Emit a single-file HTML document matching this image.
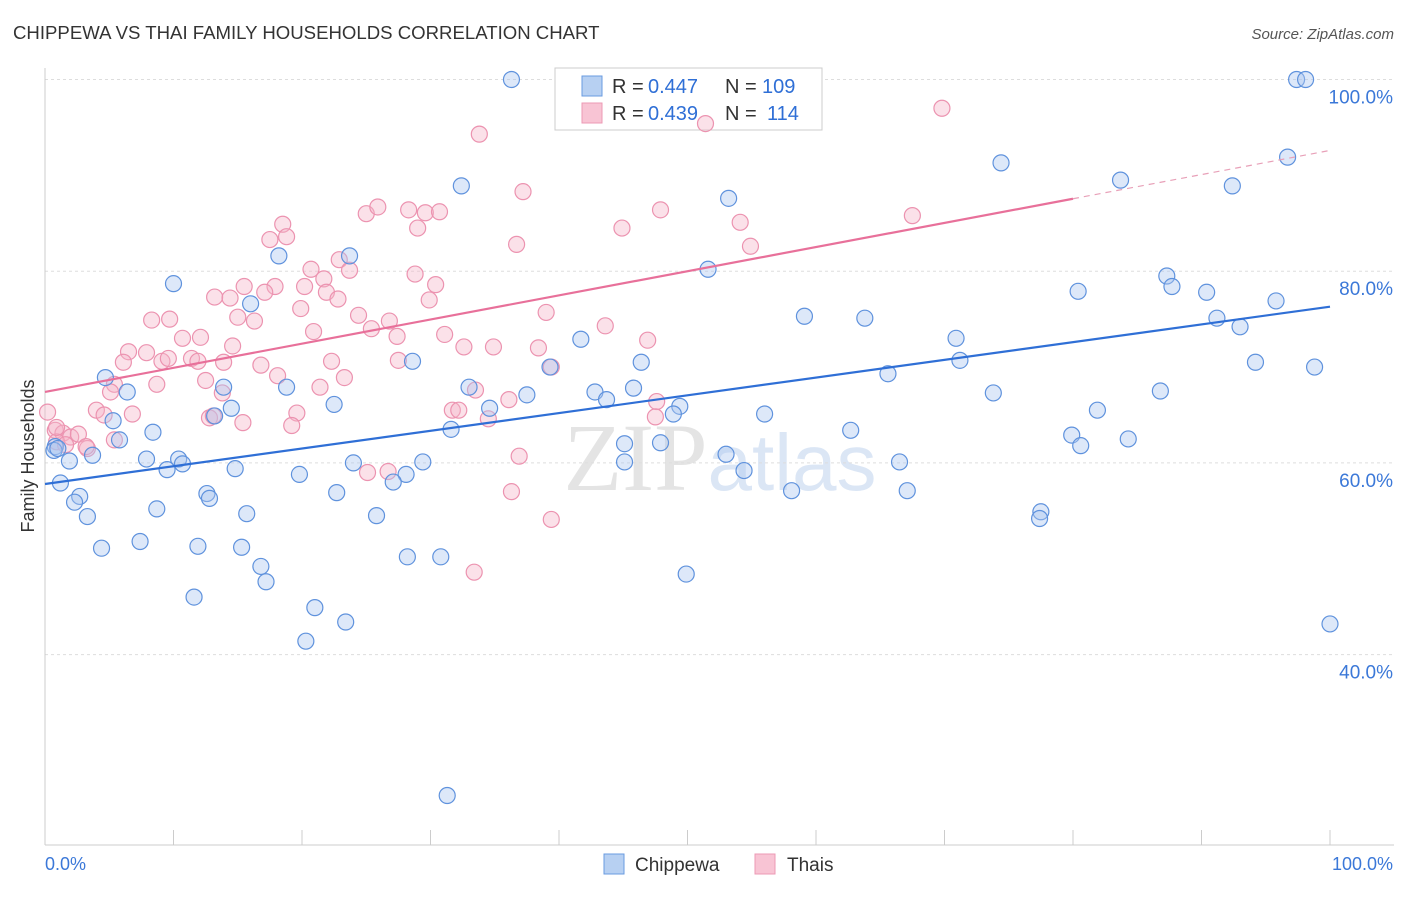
<!DOCTYPE html>
<html><head><meta charset="utf-8"><style>
body{margin:0;background:#fff;font-family:"Liberation Sans",sans-serif;}
</style></head><body>
<svg id="chart" width="1406" height="892" xmlns="http://www.w3.org/2000/svg" font-family="Liberation Sans, sans-serif">
<text x="13" y="39" font-size="18.6" fill="#333">CHIPPEWA VS THAI FAMILY HOUSEHOLDS CORRELATION CHART</text>
<text x="1394" y="39" font-size="15" fill="#555" font-style="italic" text-anchor="end">Source: ZipAtlas.com</text>
<text x="720" y="490" font-size="96" text-anchor="middle" fill="#e4e4e4" font-family="Liberation Serif, serif">ZIP<tspan fill="#dbe6f5" font-family="Liberation Sans, sans-serif" font-size="80">atlas</tspan></text>
<g id="grid"></g><g id="axes"></g>
<text transform="translate(34,456) rotate(-90)" font-size="18" fill="#333" text-anchor="middle">Family Households</text>
<g>
<rect x="555" y="68" width="267" height="62" fill="#fff" stroke="#ccc"/>
<rect x="582" y="76" width="20" height="20" fill="#b7d0f2" stroke="#6a9be0"/>
<rect x="582" y="103" width="20" height="20" fill="#f8c4d4" stroke="#ec9ab4"/>
<text x="612" y="93" font-size="20" fill="#333">R =</text>
<text x="648" y="93" font-size="20" fill="#2f6fd6">0.447</text>
<text x="725" y="93" font-size="20" fill="#333">N =</text>
<text x="762" y="93" font-size="20" fill="#2f6fd6">109</text>
<text x="612" y="120" font-size="20" fill="#333">R =</text>
<text x="648" y="120" font-size="20" fill="#2f6fd6">0.439</text>
<text x="725" y="120" font-size="20" fill="#333">N =</text>
<text x="767" y="120" font-size="20" fill="#2f6fd6">114</text>
</g>
<g id="marks"></g><g id="lines"></g>
<g>
<rect x="604" y="854" width="20" height="20" fill="#b7d0f2" stroke="#6a9be0"/>
<text x="635" y="871" font-size="19" fill="#333">Chippewa</text>
<rect x="755" y="854" width="20" height="20" fill="#f8c4d4" stroke="#ec9ab4"/>
<text x="787" y="871" font-size="19" fill="#333">Thais</text>
</g>
</svg>
<script>
const blueX=[36.3,97.4,98.1,96.7,74.4,83.7,92.4,32.4,53.2,18.2,23.7,51.6,10.0,87.3,87.7,80.4,90.4,95.8,59.1,63.8,91.2,93.0,41.7,70.9,71.2,65.6,46.4,94.2,98.8,28.6,4.7,18.8,13.9,33.0,6.4,42.8,43.7,45.8,37.5,73.8,86.8,16.0,22.5,14.5,13.2,34.6,39.3,49.4,48.9,56.0,81.9,31.6,8.4,5.3,3.7,5.8,0.8,0.7,1.9,7.9,10.4,10.7,9.5,14.8,19.8,24.0,28.1,29.4,45.1,47.9,62.7,79.9,80.6,84.3,53.0,54.4,45.1,66.5,1.2,2.7,2.3,3.3,8.7,12.6,12.8,15.7,22.7,27.1,25.8,58.1,67.1,77.5,77.4,4.4,7.4,11.9,15.3,16.8,17.2,28.2,30.8,11.6,21.0,23.4,20.3,49.9,100,31.3,1.0];
const blueY=[100,100,100,91.9,91.3,89.5,88.9,88.9,87.6,81.6,81.6,80.2,78.7,79.5,78.4,77.9,77.8,76.9,75.3,75.1,75.1,74.2,72.9,73.0,70.7,69.3,70.5,70.5,70.0,70.6,68.9,67.9,67.9,67.9,67.4,67.4,66.6,67.8,67.1,67.3,67.5,76.6,66.1,65.7,64.9,65.7,70.0,65.9,65.1,65.1,65.5,63.5,63.2,64.4,60.8,62.4,61.7,61.3,60.2,60.4,60.4,59.9,59.3,59.4,58.8,60.0,58.8,60.1,62.0,62.1,63.4,62.9,61.8,62.5,60.9,59.2,60.1,60.1,57.9,56.5,55.9,54.4,55.2,56.8,56.3,54.7,56.9,58.0,54.5,57.1,57.1,54.9,54.2,51.1,51.8,51.3,51.2,49.2,47.6,50.2,50.2,46.0,44.9,43.4,41.4,48.4,43.2,25.3,61.5];
const pinkX=[69.8,33.8,51.4,37.2,47.9,54.1,67.5,25.0,25.9,28.3,29.6,30.7,29.0,44.9,18.5,17.5,18.8,36.7,54.9,22.9,20.7,23.7,21.7,28.8,30.4,17.9,20.2,21.9,13.2,14.4,15.5,17.1,22.8,29.9,19.9,39.0,15.0,24.4,16.3,9.7,8.3,43.6,26.8,20.9,25.4,27.4,46.9,10.7,12.1,31.1,14.6,32.6,34.9,38.4,6.5,7.9,6.1,9.1,9.6,11.4,11.9,13.9,16.8,22.3,27.5,39.4,12.5,5.4,8.7,18.1,23.3,5.1,13.8,33.5,36.1,47.6,21.4,4.0,4.6,6.8,12.8,13.1,15.4,19.6,19.2,31.7,32.2,34.5,47.5,0.2,0.8,1.4,2.0,2.6,3.3,0.9,3.2,5.4,25.1,26.7,36.9,36.3,39.4,33.4,0.9,1.6];
const pinkY=[97.0,94.3,95.4,88.3,86.4,85.1,85.8,86.0,86.7,86.4,86.1,86.2,84.5,84.5,84.9,83.3,83.6,82.8,82.6,81.2,80.2,80.1,79.2,79.7,78.6,78.4,78.4,77.8,77.3,77.2,78.4,77.8,77.1,77.0,76.1,75.7,75.2,75.4,74.8,75.0,74.9,74.3,74.8,73.7,74.0,73.2,72.8,73.0,73.1,73.4,72.2,72.1,72.1,72.0,71.6,71.5,70.5,70.6,70.9,70.9,70.6,70.5,70.2,70.6,70.7,70.0,68.6,68.2,68.2,69.1,68.9,67.4,67.3,67.6,66.6,66.4,67.9,65.5,65.0,65.1,64.7,64.9,64.2,65.2,63.9,65.5,65.5,64.6,64.8,65.3,63.4,63.1,62.7,63.0,61.5,62.2,61.7,62.4,59.0,59.1,60.7,57.0,54.1,48.6,63.7,61.9];
const blueTrend=[57.8,76.3];
const pinkTrend=[67.4,92.6];
const yTicks=[40,60,80,100];
const xTicks=[0,10,20,30,40,50,60,70,80,90,100];

const NS="http://www.w3.org/2000/svg";
const X0=45,X1=1330,Y100=79.5,PPU=9.585;
const sx=v=>X0+(X1-X0)*v/100;
const sy=v=>Y100+(100-v)*PPU;
function mk(tag,attrs,parent){const e=document.createElementNS(NS,tag);for(const k in attrs)e.setAttribute(k,attrs[k]);document.getElementById(parent).appendChild(e);return e;}

yTicks.forEach(t=>{
  const l=mk('line',{x1:45,x2:1394,y1:sy(t),y2:sy(t),stroke:'#ddd','stroke-dasharray':'3,3'},'grid');
  
  
  const tx=mk('text',{x:1393,y:sy(t)+24,'font-size':19,fill:'#3b78d8','text-anchor':'end'},'grid');
  tx.textContent=t.toFixed(1)+'%';
  
  
});
const ax=mk('line',{x1:45,x2:1394,y1:845,y2:845,stroke:'#ccc'},'axes');


const ay=mk('line',{x1:45,x2:45,y1:68,y2:845,stroke:'#ccc'},'axes');


xTicks.forEach(t=>{
  const l=mk('line',{x1:sx(t),x2:sx(t),y1:830,y2:845,stroke:'#ccc'},'axes');
  
  
});
[[0,'start',45],[100,'end',1393]].forEach(([t,a,x])=>{
  const tx=mk('text',{x:x,y:870,'font-size':18,fill:'#3b78d8','text-anchor':a},'axes');
  tx.textContent=t.toFixed(1)+'%';
  
  
});
function pts(xs,ys,fill,stroke,name){
  xs.forEach((x,i)=>{
    const c=mk('circle',{cx:sx(x),cy:sy(ys[i]),r:8,fill:fill,'fill-opacity':0.4,stroke:stroke,'stroke-width':1.2},'marks');
    
    
  });
}
pts(pinkX,pinkY,'#f5b3c8','#ec93b0','thais-point');
pts(blueX,blueY,'#a9c6f0','#5f92dd','chippewa-point');
const bl=mk('line',{x1:sx(0),y1:sy(blueTrend[0]),x2:sx(100),y2:sy(blueTrend[1]),stroke:'#2f6fd6','stroke-width':2.2},'lines');


const pAt=x=>pinkTrend[0]+(pinkTrend[1]-pinkTrend[0])*x/100;
const pl=mk('line',{x1:sx(0),y1:sy(pAt(0)),x2:sx(80),y2:sy(pAt(80)),stroke:'#e8709a','stroke-width':2.2},'lines');


const pd=mk('line',{x1:sx(80),y1:sy(pAt(80)),x2:sx(100),y2:sy(pAt(100)),stroke:'#e8a0b8','stroke-width':1.2,'stroke-dasharray':'6,5'},'lines');


</script>
</body></html>
